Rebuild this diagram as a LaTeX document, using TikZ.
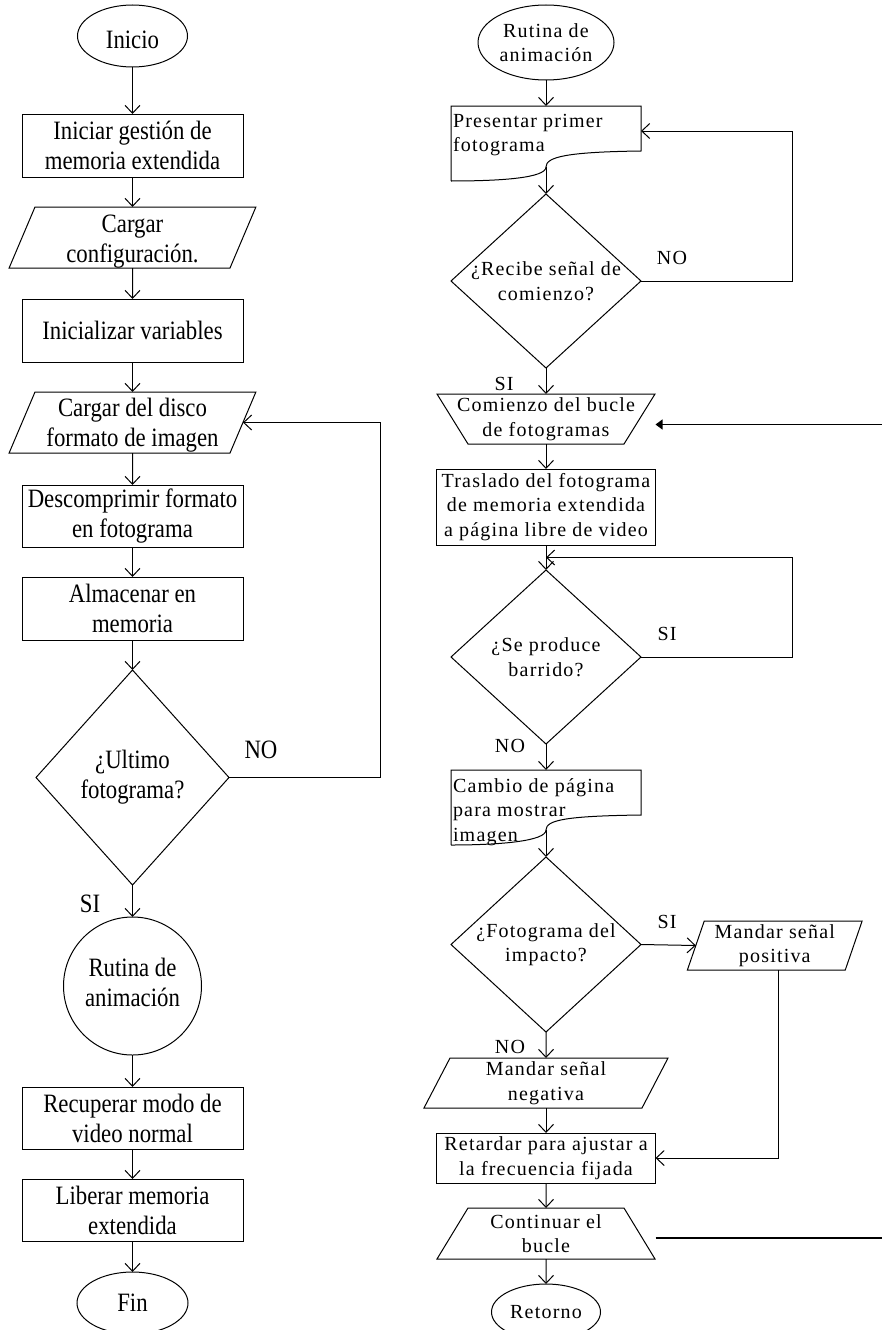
\documentclass[tikz,border=0pt]{standalone}
\usepackage{fontspec}
\setmainfont{Liberation Serif}
\newfontfamily\lf[FakeStretch=0.86]{Liberation Serif}
\newfontfamily\rf[LetterSpace=6]{Liberation Serif}
\usetikzlibrary{shapes.geometric,arrows.meta,calc}
\tikzset{
  base/.style={draw, line width=1pt, inner sep=0pt, outer sep=0pt},
  lt/.style={font=\lf\fontsize{26.5pt}{30pt}\selectfont, align=center},
  rtf/.style={font=\rf\fontsize{20pt}{24.5pt}\selectfont},
  rt/.style={rtf, align=center},
  arr/.style={line width=1pt, -{Straight Barb[length=8pt,width=15pt,line width=1pt]}},
  farr/.style={line width=1.1pt, -{Triangle[length=7pt,width=10pt]}},
  wire/.style={line width=1pt},
  lbox/.style={base, rectangle, lt, minimum width=221pt, minimum height=#1},
  rbox/.style={base, rectangle, rt, minimum width=219pt, minimum height=#1},
  trap/.style n args={4}{base, trapezium, trapezium left angle=#1, trapezium right angle=#2,
     text width=#3, text height=#4, text depth=0pt},
  dia/.style 2 args={base, diamond, minimum width=#1, minimum height=#2},
  docnode/.style={rectangle, rtf, inner sep=0pt, outer sep=0pt, minimum width=190pt, minimum height=75pt}
}
\newcommand\mkdoc[3]{%
  \draw[wire] (#1.south west) -- (#1.north west) -- (#1.north east) -- ([yshift=#2]#1.south east)
    .. controls ([xshift=-75pt,yshift=#2-1pt]#1.south east) and ([yshift=#3+10pt]#1.south) .. ([yshift=#3]#1.south)
    .. controls ([yshift=#3-11pt]#1.south) and ([xshift=50pt]#1.south west) .. (#1.south west);}
\begin{document}
\begin{tikzpicture}[x=1pt,y=-1pt]
\useasboundingbox (0,0) rectangle (882,1330);
\fill[white] (0,0) rectangle (882,1330);

% ---------------- left column
\node[base, ellipse, minimum width=110pt, minimum height=62pt, label={[lt,yshift=-4pt]center:Inicio}] (inicio) at (132.5,36) {};
\node[lbox=63pt] (b1) at (132.5,145.5) {Iniciar gestión de\\memoria extendida};
\node[trap={67}{113}{195pt}{61pt}, label={[lt,yshift=-4pt]center:{Cargar\\configuración.}}] (p1) at (132.5,237.5) {};
\node[lbox=63pt] (b2) at (132.5,330.5) {Inicializar variables};
\node[trap={67}{113}{195pt}{61pt}, label={[lt,yshift=-3pt]center:{Cargar del disco\\formato de imagen}}] (p2) at (132.5,422.5) {};
\node[lbox=62pt] (b3) at (132.5,516) {Descomprimir formato\\en fotograma};
\node[lbox=63pt] (b4) at (132.5,608.5) {Almacenar en\\memoria};
\node[dia={193pt}{215pt}, label={[lt]center:{¿Ultimo\\fotograma?}}] (d1) at (132.5,777.5) {};
\node[base, circle, minimum size=138pt, label={[lt,yshift=4pt]center:{Rutina de\\animación}}] (c1) at (132.5,986) {};
\node[lbox=62pt] (b5) at (132.5,1118) {Recuperar modo de\\video normal};
\node[lbox=62pt] (b6) at (132.5,1210) {Liberar memoria\\extendida};
\node[base, ellipse, minimum width=111pt, minimum height=62pt, label={[lt]center:Fin}] (fin) at (132.5,1303) {};

\node[lt] (noa) at (261,750) {NO};
\node[lt] (sia) at (90,904) {SI};

\draw[arr] (inicio) -- (b1);
\draw[arr] (b1) -- (p1);
\draw[arr] (p1) -- (b2);
\draw[arr] (b2) -- (p2);
\draw[arr] (p2) -- (b3);
\draw[arr] (b3) -- (b4);
\draw[arr] (b4) -- (d1);
\draw[arr] (d1) -- (c1);
\draw[arr] (c1) -- (b5);
\draw[arr] (b5) -- (b6);
\draw[arr] (b6) -- (fin);
\draw[arr] (d1.east) -- ++(151,0) |- (p2.right side);

% ---------------- right column
\node[base, ellipse, minimum width=136pt, minimum height=75pt, label={[rt]center:{Rutina de\\animación}}] (rut) at (546,42.5) {};
\node[docnode] (doc1) at (546,143.5) {\begin{minipage}[c][75pt][t]{186pt}\raggedright\rule{0pt}{21pt}Presentar primer\\fotograma\end{minipage}};
\mkdoc{doc1}{30pt}{14pt}
\node[dia={190pt}{174pt}, label={[rt]center:{¿Recibe señal de\\comienzo?}}] (rd1) at (546,281) {};
\node[trap={121.8}{121.8}{156pt}{50pt}, label={[rt]center:{Comienzo del bucle\\de fotogramas}}] (tr1) at (546,419) {};
\node[rbox=76pt] (tras) at (546,507) {Traslado del fotograma\\de memoria extendida\\a página libre de video};
\node[dia={190pt}{174pt}, label={[rt]center:{¿Se produce\\barrido?}}] (rd2) at (546,657) {};
\node[docnode] (doc2) at (546,807.5) {\begin{minipage}[c][75pt][t]{186pt}\raggedright\rule{0pt}{22pt}Cambio de página\\para mostrar\\imagen\end{minipage}};
\mkdoc{doc2}{30pt}{15pt}
\node[dia={190pt}{175pt}, label={[rt]center:{¿Fotograma del\\impacto?}}] (rd3) at (546,944.5) {};
\node[trap={71}{109}{141pt}{49pt}, label={[rt]center:{Mandar señal\\positiva}}] (pos) at (774.75,945.5) {};
\node[trap={62.5}{117.5}{192pt}{50pt}, label={[rt]center:{Mandar señal\\negativa}}] (neg) at (546,1083) {};
\node[rbox=50pt] (ret) at (546,1158) {Retardar para ajustar a\\la frecuencia fijada};
\node[trap={58.7}{58.7}{156pt}{51pt}, label={[rt]center:{Continuar el\\bucle}}] (cont) at (546,1233.5) {};
\node[base, ellipse, minimum width=109pt, minimum height=56pt, label={[rt]center:Retorno}] (retorno) at (546,1312) {};

\node[rt] (nob) at (672,258) {NO};
\node[rt] (sib) at (504,384) {SI};
\node[rt] (sic) at (667,634) {SI};
\node[rt] (noc) at (510,746) {NO};
\node[rt] (sid) at (667,922) {SI};
\node[rt] (nod) at (510,1047) {NO};

\draw[arr] (rut) -- (doc1);
\draw[arr] ([yshift=14pt]doc1.south) -- (rd1);
\draw[arr] (rd1.east) -- ++(151,0) |- ([yshift=12.5pt]doc1.east);
\draw[arr] (rd1) -- (tr1);
\draw[arr] (tr1) -- (tras);
\draw[arr] (tras) -- (rd2);
\coordinate (j2) at ($(tras.south)!0.5!(rd2.north)$);
\draw[arr] (rd2.east) -- ++(151,0) |- (j2);
\draw[arr] (rd2) -- (doc2);
\draw[arr] ([yshift=15pt]doc2.south) -- (rd3);
\draw[arr] (rd3.east) -- (pos.left side);
\draw[arr] (rd3) -- (neg);
\draw[arr] (neg) -- (ret);
\draw[arr] ([xshift=12pt]pos.bottom side) |- (ret.east);
\draw[arr] (ret) -- (cont);
\draw[arr] (cont) -- (retorno);
\draw[farr] ([xshift=16pt,yshift=-4.5pt]cont.right side) -- ++(229,0) |- ([xshift=16pt,yshift=-5.5pt]tr1.right side);
\end{tikzpicture}
\end{document}
